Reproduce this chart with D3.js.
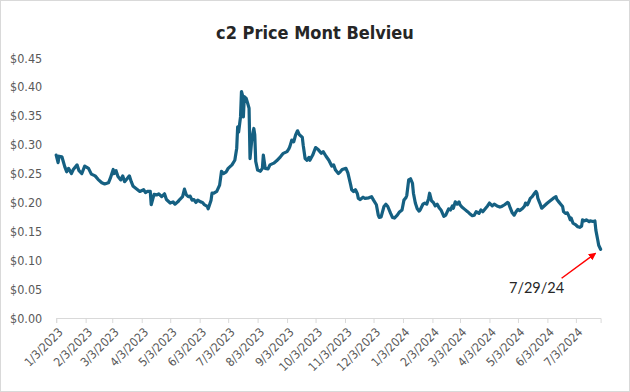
<!DOCTYPE html>
<html>
<head>
<meta charset="utf-8">
<script src="https://cdn.jsdelivr.net/npm/d3@7"></script>
<style>
  html, body { margin: 0; padding: 0; background: #fff; }
  svg { display: block; }
</style>
</head>
<body>
<svg id="chart" width="630" height="392"></svg>
<script>
// c2 (ethane) price, Mont Belvieu, $/gal
const dates = [
  "2023-01-03","2023-01-05","2023-01-06","2023-01-09","2023-01-12","2023-01-14","2023-01-16","2023-01-19","2023-01-21","2023-01-25",
  "2023-01-27","2023-01-30","2023-02-02","2023-02-06","2023-02-09","2023-02-13","2023-02-16","2023-02-20","2023-02-23","2023-02-27",
  "2023-03-01","2023-03-04","2023-03-05","2023-03-07","2023-03-09","2023-03-12","2023-03-14","2023-03-16","2023-03-19","2023-03-21",
  "2023-03-23","2023-03-25","2023-03-29","2023-04-01","2023-04-05","2023-04-07","2023-04-09","2023-04-12","2023-04-13","2023-04-16",
  "2023-04-19","2023-04-21","2023-04-24","2023-04-27","2023-04-29","2023-05-03","2023-05-06","2023-05-08","2023-05-11","2023-05-13",
  "2023-05-16","2023-05-18","2023-05-20","2023-05-22","2023-05-24","2023-05-26","2023-05-28","2023-05-30","2023-06-01","2023-06-04",
  "2023-06-06","2023-06-08","2023-06-11","2023-06-12","2023-06-15","2023-06-16","2023-06-18","2023-06-21","2023-06-24","2023-06-26",
  "2023-06-28","2023-07-01","2023-07-03","2023-07-07","2023-07-10","2023-07-12","2023-07-13","2023-07-14","2023-07-16","2023-07-17",
  "2023-07-18","2023-07-19","2023-07-20","2023-07-22","2023-07-24","2023-07-25","2023-07-26","2023-07-28","2023-07-30","2023-07-31",
  "2023-08-01","2023-08-03","2023-08-06","2023-08-08","2023-08-09","2023-08-11","2023-08-14","2023-08-16","2023-08-20","2023-08-23",
  "2023-08-27","2023-08-30","2023-09-03","2023-09-05","2023-09-06","2023-09-08","2023-09-10","2023-09-12","2023-09-14","2023-09-16",
  "2023-09-19","2023-09-20","2023-09-22","2023-09-24","2023-09-26","2023-09-27","2023-09-30","2023-10-03","2023-10-06","2023-10-09",
  "2023-10-11","2023-10-14","2023-10-17","2023-10-20","2023-10-22","2023-10-24","2023-10-27","2023-10-29","2023-10-31","2023-11-04",
  "2023-11-06","2023-11-09","2023-11-10","2023-11-12","2023-11-14","2023-11-16","2023-11-17","2023-11-19","2023-11-22","2023-11-24",
  "2023-11-28","2023-12-01","2023-12-03","2023-12-06","2023-12-08","2023-12-09","2023-12-11","2023-12-14","2023-12-16","2023-12-18",
  "2023-12-21","2023-12-23","2023-12-25","2023-12-28","2023-12-30","2024-01-02","2024-01-04","2024-01-06","2024-01-07","2024-01-09",
  "2024-01-11","2024-01-13","2024-01-14","2024-01-16","2024-01-18","2024-01-20","2024-01-21","2024-01-24","2024-01-26","2024-01-28",
  "2024-01-30","2024-01-31","2024-02-02","2024-02-04","2024-02-06","2024-02-08","2024-02-10","2024-02-12","2024-02-15","2024-02-17",
  "2024-02-20","2024-02-22","2024-02-24","2024-02-25","2024-02-27","2024-02-29","2024-03-02","2024-03-03","2024-03-05","2024-03-08",
  "2024-03-11","2024-03-13","2024-03-16","2024-03-18","2024-03-20","2024-03-23","2024-03-25","2024-03-27","2024-03-30","2024-04-01",
  "2024-04-03","2024-04-06","2024-04-08","2024-04-11","2024-04-14","2024-04-16","2024-04-19","2024-04-22","2024-04-23","2024-04-25",
  "2024-04-27","2024-04-29","2024-05-01","2024-05-03","2024-05-05","2024-05-08","2024-05-10","2024-05-11","2024-05-13","2024-05-15",
  "2024-05-16","2024-05-18","2024-05-20","2024-05-22","2024-05-23","2024-05-24","2024-05-26","2024-05-28","2024-05-30","2024-06-01",
  "2024-06-03","2024-06-06","2024-06-09","2024-06-12","2024-06-13","2024-06-15","2024-06-17","2024-06-19","2024-06-20","2024-06-22",
  "2024-06-24","2024-06-26","2024-06-27","2024-06-28","2024-06-30","2024-07-03","2024-07-05","2024-07-07","2024-07-09","2024-07-10",
  "2024-07-12","2024-07-14","2024-07-17","2024-07-18","2024-07-21","2024-07-23","2024-07-24","2024-07-26","2024-07-27","2024-07-29"
];
const prices = [
  0.282,0.269,0.280,0.279,0.262,0.253,0.259,0.250,0.257,0.265,
  0.255,0.250,0.263,0.259,0.249,0.246,0.240,0.234,0.232,0.234,
  0.242,0.257,0.250,0.255,0.245,0.239,0.246,0.236,0.242,0.246,
  0.236,0.228,0.223,0.219,0.222,0.217,0.219,0.219,0.196,0.214,
  0.213,0.215,0.210,0.215,0.205,0.199,0.201,0.197,0.201,0.205,
  0.210,0.223,0.213,0.210,0.211,0.204,0.205,0.200,0.204,0.201,
  0.200,0.196,0.193,0.189,0.204,0.216,0.216,0.219,0.230,0.254,
  0.250,0.253,0.259,0.265,0.273,0.294,0.331,0.322,0.348,0.392,
  0.386,0.348,0.383,0.380,0.369,0.363,0.276,0.311,0.328,0.317,
  0.271,0.256,0.254,0.259,0.282,0.259,0.258,0.265,0.268,0.272,
  0.279,0.285,0.288,0.293,0.297,0.308,0.305,0.317,0.324,0.317,
  0.313,0.299,0.276,0.273,0.278,0.273,0.282,0.295,0.291,0.285,
  0.288,0.280,0.273,0.263,0.265,0.256,0.250,0.253,0.257,0.259,
  0.251,0.230,0.222,0.219,0.222,0.215,0.207,0.205,0.209,0.207,
  0.208,0.210,0.204,0.196,0.178,0.174,0.175,0.193,0.197,0.193,
  0.181,0.174,0.173,0.178,0.183,0.187,0.204,0.208,0.212,0.239,
  0.241,0.233,0.216,0.199,0.189,0.185,0.187,0.197,0.199,0.197,
  0.207,0.216,0.203,0.200,0.194,0.197,0.191,0.187,0.176,0.178,
  0.189,0.187,0.194,0.190,0.201,0.197,0.201,0.196,0.192,0.188,
  0.184,0.181,0.177,0.178,0.184,0.181,0.187,0.184,0.190,0.194,
  0.199,0.194,0.197,0.194,0.192,0.193,0.196,0.200,0.199,0.190,
  0.182,0.178,0.184,0.188,0.186,0.190,0.194,0.199,0.196,0.203,
  0.207,0.210,0.215,0.219,0.216,0.207,0.199,0.190,0.193,0.196,
  0.199,0.203,0.207,0.210,0.205,0.201,0.197,0.193,0.184,0.181,
  0.182,0.175,0.170,0.173,0.164,0.161,0.158,0.157,0.159,0.170,
  0.168,0.170,0.167,0.168,0.167,0.168,0.152,0.135,0.126,0.119
];
const yTicks = [0, 0.05, 0.10, 0.15, 0.20, 0.25, 0.30, 0.35, 0.40, 0.45];
const xTickLabels = ["1/3/2023","2/3/2023","3/3/2023","4/3/2023","5/3/2023","6/3/2023","7/3/2023","8/3/2023","9/3/2023",
  "10/3/2023","11/3/2023","12/3/2023","1/3/2024","2/3/2024","3/3/2024","4/3/2024","5/3/2024","6/3/2024","7/3/2024"];
const title = "c2 Price Mont Belvieu";
const callout = "7/29/24";

const W = 630, H = 392;
const plot = { left: 56.2, right: 600.6, top: 58, bottom: 318 };
const lineColor = "#156082";
const narrow = "'Liberation Sans Narrow', 'DejaVu Sans Condensed', 'Arial Narrow', sans-serif";

const parseIso = d3.timeParse("%Y-%m-%d");
const parseTick = d3.timeParse("%m/%d/%Y");
const data = dates.map((d, i) => ({ date: parseIso(d), value: prices[i] }));

const svg = d3.select("#chart");

// chart frame
svg.append("rect")
  .attr("x", 0.5).attr("y", 0.5).attr("width", W - 1).attr("height", H - 1)
  .attr("fill", "#fff").attr("stroke", "#d9d9d9");

const x = d3.scaleTime()
  .domain([parseIso(dates[0]), parseIso(dates[dates.length - 1])])
  .range([plot.left, plot.right]);
const y = d3.scaleLinear().domain([0, 0.45]).range([plot.bottom, plot.top]);

// title
svg.append("text")
  .attr("x", W / 2).attr("y", 39)
  .attr("text-anchor", "middle")
  .style("font-family", narrow).style("font-weight", "bold")
  .style("font-size", "18px").style("fill", "#262626")
  .text(title);

// y axis (labels only)
const yAxis = svg.append("g")
  .attr("transform", `translate(${plot.left},0)`)
  .call(d3.axisLeft(y).tickValues(yTicks).tickSize(0).tickPadding(14)
    .tickFormat(d => "$" + d.toFixed(2)));
yAxis.select(".domain").remove();
yAxis.selectAll("text")
  .style("font-family", narrow).style("font-size", "12.5px").style("fill", "#595959");

// x axis
const xAxis = svg.append("g")
  .attr("transform", `translate(0,${plot.bottom})`)
  .call(d3.axisBottom(x).tickValues(xTickLabels.map(parseTick)).tickSize(5)
    .tickFormat((d, i) => xTickLabels[i]));
xAxis.select(".domain").attr("stroke", "#d9d9d9").attr("stroke-width", 1);
xAxis.selectAll(".tick line").attr("stroke", "#d9d9d9");
xAxis.selectAll("text")
  .attr("text-anchor", "end")
  .attr("dy", "0.35em").attr("y", 0)
  .attr("transform", "translate(4,12) rotate(-45)")
  .style("font-family", narrow).style("font-size", "12px").style("fill", "#595959");

// price line
svg.append("path")
  .datum(data)
  .attr("fill", "none")
  .attr("stroke", lineColor)
  .attr("stroke-width", 3.2)
  .attr("stroke-linejoin", "round")
  .attr("stroke-linecap", "round")
  .attr("d", d3.line().x(d => x(d.date)).y(d => y(d.value)));

// callout arrow to last point
const last = data[data.length - 1];
const lx = x(last.date), ly = y(last.value);
svg.append("defs").append("marker")
  .attr("id", "arrow").attr("viewBox", "0 0 10 10")
  .attr("refX", 9).attr("refY", 5)
  .attr("markerWidth", 5).attr("markerHeight", 5)
  .attr("orient", "auto")
  .append("path").attr("d", "M0,0 L10,5 L0,10 Z").attr("fill", "#ff0000");
svg.append("line")
  .attr("x1", lx - 39).attr("y1", ly + 29)
  .attr("x2", lx - 5).attr("y2", ly + 4)
  .attr("stroke", "#ff0000").attr("stroke-width", 1.5)
  .attr("marker-end", "url(#arrow)");
svg.append("text")
  .attr("x", lx - 64).attr("y", ly + 44)
  .attr("text-anchor", "middle")
  .style("font-family", "Lato, 'Open Sans', sans-serif")
  .style("font-size", "14.5px").style("fill", "#262626")
  .text(callout);
</script>
</body>
</html>
